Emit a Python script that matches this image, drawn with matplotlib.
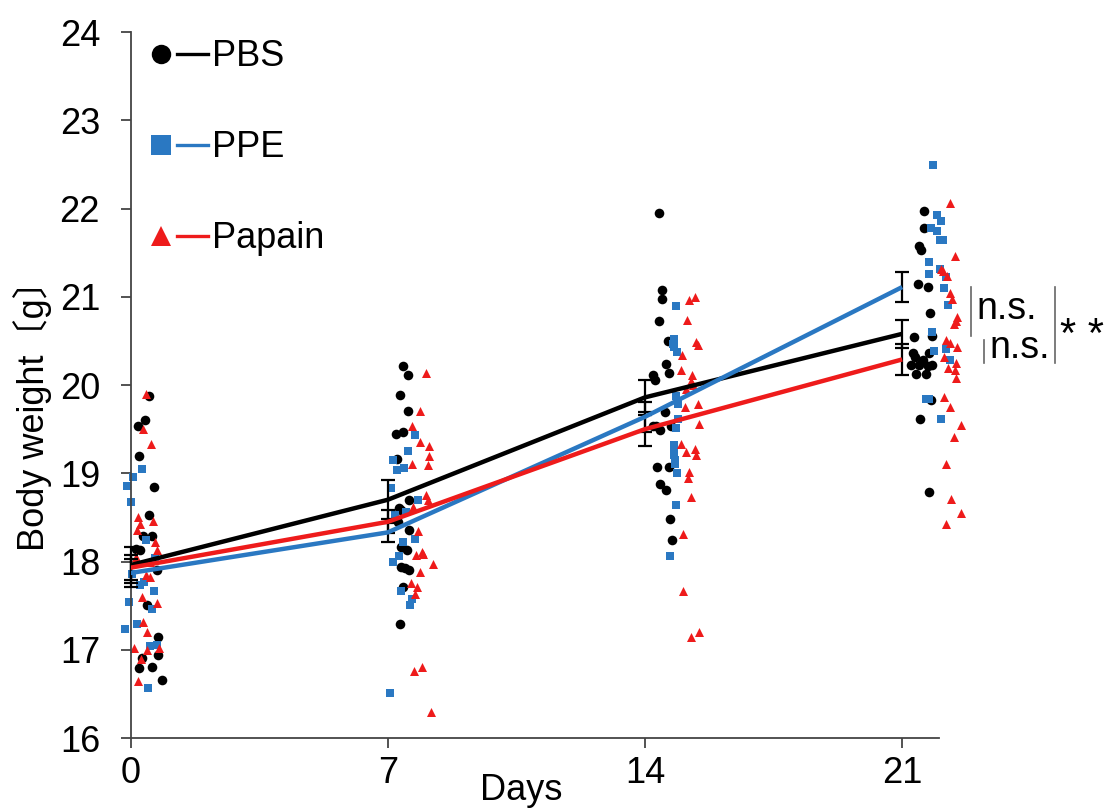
import numpy as np
import matplotlib
matplotlib.use("Agg")
import matplotlib.pyplot as plt
from matplotlib.lines import Line2D
from matplotlib.legend_handler import HandlerTuple

plt.rcParams["font.family"] = ["Liberation Sans", "Noto Sans CJK JP", "DejaVu Sans"]

days = [0, 7, 14, 21]
groups = ["PBS", "PPE", "Papain"]

# group means and error bars
pbs_mean = [17.96, 18.70, 19.86, 20.58]
pbs_err = [0.20, 0.22, 0.20, 0.16]
ppe_mean = [17.87, 18.33, 19.64, 21.11]
ppe_err = [0.16, 0.11, 0.17, 0.17]
papain_mean = [17.93, 18.45, 19.50, 20.29]
papain_err = [0.14, 0.13, 0.19, 0.18]

# individual animals (x = day + jitter as drawn)
pbs_x = [0.51, 0.39, 0.19, 0.23, 0.64, 0.50, 0.34, 0.59, 0.14, 0.25, 0.71, 0.45, 0.75, 0.31, 0.75, 0.57, 0.23, 0.84,
         7.42, 7.54, 7.33, 7.54, 7.22, 7.42, 7.26, 7.57, 7.31, 7.37, 7.28, 7.58, 7.35, 7.53, 7.36, 7.48, 7.57, 7.42, 7.33,
         14.38, 14.47, 14.47, 14.38, 14.62, 14.58, 14.64, 14.22, 14.26, 14.54, 14.22, 14.31, 14.42, 14.72, 14.32, 14.65,
         14.42, 14.58, 14.69, 14.73,
         21.59, 21.59, 21.47, 21.52, 21.44, 21.70, 21.76, 21.33, 21.82, 21.29, 21.36, 21.74, 21.56, 21.25, 21.46, 21.70,
         21.82, 21.38, 21.64, 21.79, 21.49, 21.74]
pbs_y = [19.88, 19.60, 19.54, 19.20, 18.85, 18.53, 18.29, 18.29, 18.14, 18.13, 17.90, 17.51, 17.15, 16.91, 16.94, 16.81, 16.79, 16.66,
         20.22, 20.11, 19.89, 19.71, 19.45, 19.47, 19.16, 18.70, 18.61, 18.58, 18.45, 18.36, 18.16, 18.13, 17.94, 17.93, 17.90, 17.71, 17.29,
         21.95, 21.08, 20.97, 20.72, 20.50, 20.24, 20.14, 20.11, 20.06, 19.69, 19.54, 19.54, 19.49, 19.53, 19.07, 19.07,
         18.88, 18.81, 18.48, 18.24,
         21.97, 21.78, 21.58, 21.53, 21.14, 21.11, 20.82, 20.54, 20.55, 20.36, 20.32, 20.36, 20.28, 20.23, 20.23, 20.22,
         20.23, 20.13, 20.13, 19.83, 19.62, 18.79]

ppe_x = [0.32, 0.07, -0.09, 0.01, 0.43, 0.66, 0.03, 0.25, 0.36, 0.63, -0.04, 0.57, 0.16, -0.15, 0.52, 0.72, 0.48,
         7.75, 7.55, 7.14, 7.25, 7.44, 7.08, 7.81, 7.19, 7.50, 7.75, 7.42, 7.30, 7.14, 7.36, 7.66, 7.60, 7.05,
         14.85, 14.80, 14.76, 14.78, 14.86, 14.85, 14.89, 14.90, 14.85, 14.78, 14.80, 14.78, 14.82, 14.83, 14.88, 14.85, 14.69,
         21.83, 21.94, 22.06, 21.79, 21.94, 22.02, 22.10, 21.74, 21.74, 22.03, 22.20, 22.15, 22.24, 21.82, 21.88, 22.20,
         22.31, 21.64, 21.74, 22.07]
ppe_y = [19.05, 18.96, 18.86, 18.67, 18.24, 18.04, 17.86, 17.73, 17.77, 17.67, 17.54, 17.46, 17.29, 17.23, 17.04, 17.05, 16.57,
         19.43, 19.25, 19.15, 19.04, 19.06, 18.83, 18.70, 18.53, 18.56, 18.25, 18.22, 18.06, 17.99, 17.67, 17.58, 17.51, 16.51,
         20.90, 20.52, 20.47, 20.43, 20.37, 19.87, 19.79, 19.62, 19.51, 19.32, 19.26, 19.21, 19.15, 19.11, 19.00, 18.64, 18.06,
         22.49, 21.93, 21.86, 21.78, 21.75, 21.64, 21.64, 21.39, 21.26, 21.31, 21.22, 21.10, 20.91, 20.60, 20.38, 20.41,
         20.28, 19.84, 19.84, 19.61]

papain_x = [0.42, 0.34, 0.55, 0.21, 0.62, 0.25, 0.16, 0.66, 0.71, 0.14, 0.52, 0.43, 0.52, 0.30, 0.72, 0.34, 0.45, 0.10,
            0.28, 0.45, 0.78, 0.21,
            8.03, 7.87, 7.66, 7.87, 8.12, 8.12, 8.08, 7.66, 8.03, 8.09, 7.69, 7.82, 7.78, 7.93, 7.96, 8.24, 7.87, 7.62,
            7.80, 7.73, 7.72, 7.93, 8.17,
            15.20, 15.36, 15.14, 15.40, 15.44, 15.02, 14.98, 15.29, 15.26, 15.30, 15.12, 15.44, 15.08, 15.46, 14.98, 15.11,
            15.36, 15.40, 15.21, 15.17, 15.24, 15.04, 15.04, 15.24, 15.46,
            22.29, 22.45, 22.06, 22.10, 22.22, 22.29, 22.36, 22.50, 22.46, 22.41, 22.20, 22.29, 22.48, 22.15, 22.46, 22.24,
            22.45, 22.46, 22.13, 22.29, 22.59, 22.40, 22.20, 22.33, 22.59, 22.20]
papain_y = [19.90, 19.50, 19.33, 18.50, 18.46, 18.42, 18.36, 18.22, 18.13, 18.05, 18.00, 17.85, 17.83, 17.60, 17.53, 17.32, 17.20, 17.02,
            16.89, 17.00, 17.02, 16.65,
            20.14, 19.71, 19.53, 19.35, 19.31, 19.20, 19.09, 19.11, 18.75, 18.70, 18.62, 18.35, 18.07, 18.11, 18.09, 17.97, 17.88, 17.76,
            17.71, 17.63, 16.76, 16.80, 16.30,
            20.96, 21.00, 20.74, 20.49, 20.45, 20.34, 20.17, 20.11, 20.05, 20.00, 19.96, 19.79, 19.75, 19.56, 19.33, 19.24,
            19.27, 19.21, 19.02, 18.95, 18.73, 18.31, 17.67, 17.15, 17.20,
            22.06, 21.46, 21.32, 21.29, 21.23, 21.04, 20.97, 20.77, 20.72, 20.69, 20.51, 20.48, 20.43, 20.32, 20.25, 20.19,
            20.17, 20.08, 19.86, 19.75, 19.55, 19.41, 19.11, 18.71, 18.55, 18.43]

colors = ["black", "#2a78c2", "#ee1b1b"]
markers = ["o", "s", "^"]
marker_sizes = [48, 30, 42]


fig = plt.figure(figsize=(11.11, 8.11), dpi=100)
ax = fig.add_axes([0.1176, 0.09, 0.7275, 0.8705])

points = [(pbs_x, pbs_y), (ppe_x, ppe_y), (papain_x, papain_y)]
for (px, py), c, m, s in zip(points, colors, markers, marker_sizes):
    ax.scatter(px, py, s=s, c=c, marker=m, linewidths=0, clip_on=False, zorder=2)

for mean, err, c in zip([pbs_mean, ppe_mean, papain_mean], [pbs_err, ppe_err, papain_err], colors):
    ax.errorbar(days, mean, yerr=err, fmt="none", ecolor="black", elinewidth=1.6,
                capsize=5, capthick=1.6, zorder=3, clip_on=False)
    ax.plot(days, mean, color=c, lw=3.2, zorder=4, solid_capstyle="butt")

ax.set_xlim(0, 22)
ax.set_ylim(16, 24)
ax.set_xticks(days)
ax.set_yticks(np.arange(16, 25, 1))
for side in ["top", "right"]:
    ax.spines[side].set_visible(False)
for side in ["left", "bottom"]:
    ax.spines[side].set_linewidth(1.3)
    ax.spines[side].set_color("#444444")
ax.tick_params(axis="both", direction="out", length=7, width=1.3, color="#444444", labelsize=26)
ax.tick_params(axis="y", pad=15)
ax.tick_params(axis="x", pad=6)

ax.set_xlabel("Days", fontsize=26)
ax.xaxis.set_label_coords(0.483, -0.05)
ax.set_ylabel("Body weight〔g〕", fontsize=26)
ax.yaxis.set_label_coords(-0.097, 0.469)

# legend: marker on the left, line on the right
handles = []
for c, m in zip(colors, markers):
    dot = Line2D([], [], ls="none", marker=m, color=c, markersize=14, markeredgewidth=0)
    line = Line2D([], [], color=c, lw=2.4)
    handles.append((dot, line))
ax.legend(handles, groups, handler_map={tuple: HandlerTuple(ndivide=None, pad=0)},
          loc="upper left", bbox_to_anchor=(0.0, 1.01), frameon=False, fontsize=26,
          handlelength=1.75, handletextpad=0.1, labelspacing=1.55, borderaxespad=0)

# significance brackets, drawn from the day-21 means
def bracket(x, y0, y1):
    ax.plot([x, x], [y0, y1], color="#666666", lw=1.2, clip_on=False)

bracket(22.88, ppe_mean[3], pbs_mean[3] - 0.03)
ax.text(23.02, (ppe_mean[3] + pbs_mean[3]) / 2 + 0.02, "n.s.", fontsize=27, va="center", ha="left")
bracket(23.24, pbs_mean[3] - 0.07, papain_mean[3] - 0.04)
ax.text(23.38, (pbs_mean[3] + papain_mean[3]) / 2 - 0.02, "n.s.", fontsize=27, va="center", ha="left")
bracket(25.17, ppe_mean[3], papain_mean[3] - 0.04)
ax.text(25.3, (ppe_mean[3] + papain_mean[3]) / 2 - 0.15, "* *", fontsize=30, va="center", ha="left")

fig.savefig("out.png", dpi=100)
